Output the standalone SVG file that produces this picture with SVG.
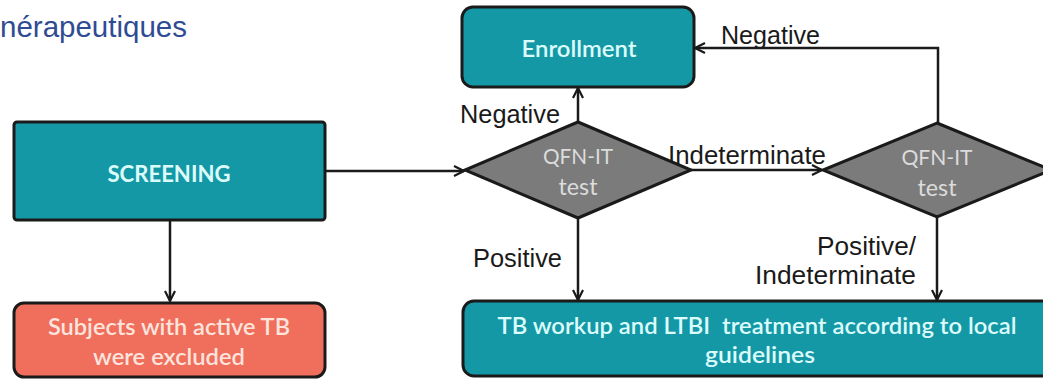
<svg xmlns="http://www.w3.org/2000/svg" width="1043" height="380" viewBox="0 0 1043 380">
  <style>
    .teal { fill: #1598a6; stroke: #1a1a1a; stroke-width: 3; }
    .salmon { fill: #ef6e5c; stroke: #1a1a1a; stroke-width: 3; }
    .dia { fill: #7b7b7b; stroke: #1a1a1a; stroke-width: 3; stroke-linejoin: miter; }
    .conn { fill: none; stroke: #1a1a1a; stroke-width: 2.5; }
    .bt { font-family: Lato, "Open Sans", sans-serif; fill: #dcfcfc; text-anchor: middle; }
    .st { font-family: Lato, "Open Sans", sans-serif; fill: #fde4dc; text-anchor: middle; }
    .dt { font-family: Lato, "Open Sans", sans-serif; fill: #dcdcdc; text-anchor: middle; }
    .lbl { font-family: "Liberation Sans", Arial, sans-serif; fill: #1a1a1a; font-size: 25px; }
  </style>
  <defs>
    <marker id="arr" viewBox="0 0 12 12" refX="11" refY="6" markerWidth="12" markerHeight="12" orient="auto" markerUnits="userSpaceOnUse">
      <path d="M1,1 L11,6 L1,11" fill="none" stroke="#1a1a1a" stroke-width="2.2"/>
    </marker>
  </defs>
  <rect width="1043" height="380" fill="#ffffff"/>
  <text x="0" y="37" font-family="'Liberation Sans', Arial, sans-serif" font-size="30" fill="#2f4c93" textLength="187" lengthAdjust="spacingAndGlyphs">nérapeutiques</text>

  <g id="connectors">
    <line class="conn" x1="325" y1="171" x2="464" y2="171" marker-end="url(#arr)"/>
    <line class="conn" x1="170" y1="220" x2="170" y2="301" marker-end="url(#arr)"/>
    <line class="conn" x1="578" y1="122" x2="578" y2="88" marker-end="url(#arr)"/>
    <line class="conn" x1="691" y1="170" x2="822" y2="170" marker-end="url(#arr)"/>
    <path class="conn" d="M938,123 V48 H695" marker-end="url(#arr)"/>
    <line class="conn" x1="578" y1="218" x2="578" y2="300" marker-end="url(#arr)"/>
    <line class="conn" x1="937" y1="217" x2="937" y2="300" marker-end="url(#arr)"/>
    <text class="lbl" x="460" y="123" textLength="100" lengthAdjust="spacingAndGlyphs">Negative</text>
    <text class="lbl" x="721" y="44" textLength="99" lengthAdjust="spacingAndGlyphs">Negative</text>
    <text class="lbl" x="668" y="164" textLength="158" lengthAdjust="spacingAndGlyphs">Indeterminate</text>
    <text class="lbl" x="473" y="267" textLength="89" lengthAdjust="spacingAndGlyphs">Positive</text>
    <text class="lbl" x="817" y="255" textLength="99" lengthAdjust="spacingAndGlyphs">Positive/</text>
    <text class="lbl" x="755" y="284" textLength="161" lengthAdjust="spacingAndGlyphs">Indeterminate</text>
  </g>

  <g id="screening">
    <rect class="teal" x="14" y="122" width="311" height="98" rx="3"/>
    <text class="bt" x="169" y="182" font-size="22" font-weight="bold" textLength="123" lengthAdjust="spacingAndGlyphs">SCREENING</text>
  </g>
  <g id="excluded">
    <rect class="salmon" x="14" y="303" width="311" height="74" rx="10"/>
    <text class="st" x="169" y="335" font-size="22" font-weight="600" textLength="242" lengthAdjust="spacingAndGlyphs">Subjects with active TB</text>
    <text class="st" x="169" y="365" font-size="22" font-weight="600" textLength="152" lengthAdjust="spacingAndGlyphs">were excluded</text>
  </g>
  <g id="enrollment">
    <rect class="teal" x="462" y="7" width="232" height="80" rx="11"/>
    <text class="bt" x="579" y="57" font-size="23" font-weight="600" textLength="115" lengthAdjust="spacingAndGlyphs">Enrollment</text>
  </g>
  <g id="qfn1">
    <polygon class="dia" points="578,122 691,170 578,218 465,170"/>
    <text class="dt" x="578" y="164" font-size="21" textLength="70" lengthAdjust="spacingAndGlyphs">QFN-IT</text>
    <text class="dt" x="578" y="195" font-size="23" textLength="39" lengthAdjust="spacingAndGlyphs">test</text>
  </g>
  <g id="qfn2">
    <polygon class="dia" points="937,123 1051,170 937,217 823,170"/>
    <text class="dt" x="937" y="165" font-size="21" textLength="71" lengthAdjust="spacingAndGlyphs">QFN-IT</text>
    <text class="dt" x="937" y="196" font-size="23" textLength="39" lengthAdjust="spacingAndGlyphs">test</text>
  </g>
  <g id="workup">
    <rect class="teal" x="463" y="301" width="600" height="75" rx="11"/>
    <text class="bt" x="757" y="334" font-size="22" font-weight="600" textLength="519" lengthAdjust="spacingAndGlyphs">TB workup and LTBI&#160; treatment according to local</text>
    <text class="bt" x="760" y="363" font-size="22" font-weight="600" textLength="110" lengthAdjust="spacingAndGlyphs">guidelines</text>
  </g>
</svg>
